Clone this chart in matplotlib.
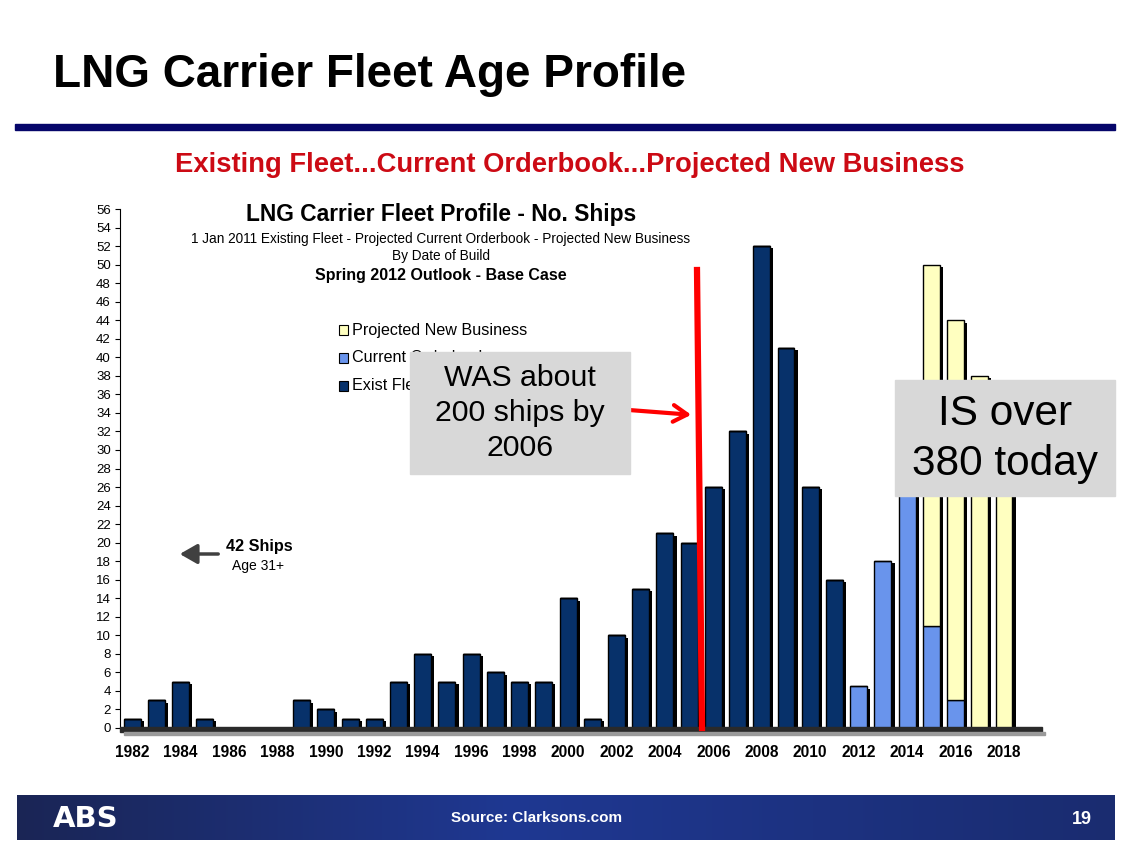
import matplotlib
matplotlib.use("Agg")
import matplotlib.pyplot as plt
import numpy as np
from matplotlib.patches import Rectangle, FancyArrowPatch

plt.rcParams['font.family'] = ['Liberation Sans', 'DejaVu Sans']

years = list(range(1982, 2019))
existing = [1, 3, 5, 1, 0, 0, 0, 3, 2, 1, 1, 5, 8, 5, 8, 6, 5, 5, 14, 1,
            10, 15, 21, 20, 26, 32, 52, 41, 26, 16, 0, 0, 0, 0, 0, 0, 0]
current = [0]*30 + [4.5, 18, 28, 11, 3, 0, 0]
projected = [0]*33 + [39, 41, 38, 30]
xtick_years = list(range(1982, 2019, 2))
yticks = list(range(0, 57, 2))
legend_labels = ["Projected New Business", "Current Orderbook", "Exist Fleet"]

W, H = 1124, 849
fig = plt.figure(figsize=(W/100, H/100), dpi=100)
fig.patch.set_facecolor('white')

def fx(px):
    return px / W

def fy(py):
    return 1 - py / H

# Page title
fig.text(fx(53), fy(75), "LNG Carrier Fleet Age Profile", fontsize=33, fontweight='bold',
         va='center', ha='left', color='black')
fig.patches.append(Rectangle((fx(15), fy(130)), fx(1115) - fx(15), fy(124) - fy(130),
                             transform=fig.transFigure, color='#06066a'))
fig.text(fx(570), fy(165), "Existing Fleet...Current Orderbook...Projected New Business",
         fontsize=19.7, fontweight='bold', color='#cc0a14', ha='center', va='center')

# Main axes
ax = fig.add_axes([fx(120), fy(728), fx(1042) - fx(120), fy(209) - fy(728)])
ax.set_xlim(1981.5, 2019.57)
ax.set_ylim(0, 56)

x = np.array(years, dtype=float)
ex = np.array(existing, dtype=float)
cu = np.array(current, dtype=float)
pr = np.array(projected, dtype=float)
total = ex + cu + pr
bw = 0.7
sh = 0.13
# shadows
ax.bar(x + sh, np.where(total > 0, total - 0.25, 0), width=bw, color='black', zorder=2)
ax.bar(x, ex, width=bw, color='#07316a', edgecolor='black', linewidth=1.0, zorder=3)
ax.bar(x, cu, bottom=ex, width=bw, color='#6994ec', edgecolor='black', linewidth=1.0, zorder=3)
ax.bar(x, pr, bottom=ex + cu, width=bw, color='#ffffc0', edgecolor='black', linewidth=1.0, zorder=3)

for s in ['top', 'right', 'bottom']:
    ax.spines[s].set_visible(False)
ax.spines['left'].set_linewidth(0.8)
ax.set_yticks(yticks)
ax.set_yticklabels([str(v) for v in yticks], fontsize=9.5)
ax.tick_params(axis='y', length=3.6, width=0.8, pad=3, direction='out')
ax.set_xticks(xtick_years)
ax.set_xticklabels([str(v) for v in xtick_years], fontsize=11.2, fontweight='bold')
ax.tick_params(axis='x', length=0, pad=12)

# floor
fig.patches.append(Rectangle((fx(120), fy(732)), fx(1042) - fx(120), fy(727) - fy(732),
                             transform=fig.transFigure, color='#2a2a2a', zorder=5))
fig.patches.append(Rectangle((fx(124), fy(735)), fx(1045) - fx(124), fy(732) - fy(735),
                             transform=fig.transFigure, color='#9a9a9a', zorder=5))

# chart titles
fig.text(fx(441), fy(215), "LNG Carrier Fleet Profile - No. Ships", fontsize=16.4,
         fontweight='bold', ha='center', va='center')
fig.text(fx(441), fy(239), "1 Jan 2011 Existing Fleet - Projected Current Orderbook - Projected New Business",
         fontsize=9.8, ha='center', va='center')
fig.text(fx(441), fy(256), "By Date of Build", fontsize=9.8, ha='center', va='center')
fig.text(fx(441), fy(275), "Spring 2012 Outlook - Base Case", fontsize=11.5,
         fontweight='bold', ha='center', va='center')

# legend
leg_colors = ['#ffffc0', '#6994ec', '#07316a']
for i, (lab, col) in enumerate(zip(legend_labels, leg_colors)):
    yy = 330 + i * 28
    fig.patches.append(Rectangle((fx(339), fy(yy + 5)), fx(9), fy(0) - fy(10),
                                 transform=fig.transFigure, facecolor=col,
                                 edgecolor='black', linewidth=0.8, zorder=6))
    fig.text(fx(352), fy(yy), lab, fontsize=11.6, ha='left', va='center', zorder=6)

# 42 ships annotation
ax_arrow = FancyArrowPatch((fx(221), fy(554)), (fx(177), fy(554)), transform=fig.transFigure,
                           arrowstyle='-|>,head_length=7,head_width=4', color='#404040',
                           linewidth=2.5, mutation_scale=1.5)
fig.patches.append(ax_arrow)
fig.text(fx(259), fy(546), "42 Ships", fontsize=11.7, fontweight='bold', ha='center', va='center')
fig.text(fx(258), fy(566), "Age 31+", fontsize=10, ha='center', va='center')

# red vertical line and arrow
fig.add_artist(plt.Line2D([fx(697), fx(702)], [fy(270), fy(728)], transform=fig.transFigure,
                          color='red', linewidth=4.5, zorder=7))
red_arrow = FancyArrowPatch((fx(603), fy(408)), (fx(694), fy(415)), transform=fig.transFigure,
                            arrowstyle='->,head_length=10,head_width=6', color='red',
                            linewidth=3, mutation_scale=1.0, zorder=7)
fig.patches.append(red_arrow)

# grey boxes
fig.patches.append(Rectangle((fx(410), fy(474)), fx(630) - fx(410), fy(352) - fy(474),
                             transform=fig.transFigure, color='#d8d8d8', zorder=8))
fig.text(fx(520), fy(413), "WAS about\n200 ships by\n2006", fontsize=21.8, ha='center',
         va='center', linespacing=1.3, zorder=9)
fig.patches.append(Rectangle((fx(895), fy(496)), fx(1115) - fx(895), fy(380) - fy(496),
                             transform=fig.transFigure, color='#d8d8d8', zorder=8))
fig.text(fx(1005), fy(439), "IS over\n380 today", fontsize=30.5, ha='center',
         va='center', linespacing=1.3, zorder=9)

# footer with gradient
fax = fig.add_axes([fx(17), fy(840), fx(1115) - fx(17), fy(795) - fy(840)])
grad_x = np.linspace(0, 1, 400)
c1 = np.array([0x1a, 0x25, 0x55]) / 255
c2 = np.array([0x1f, 0x38, 0x92]) / 255
c3 = np.array([0x1a, 0x2c, 0x70]) / 255
prof = np.clip(grad_x / 0.45, 0, 1)
cols = np.where(grad_x[:, None] < 0.45,
                c1 + (c2 - c1) * prof[:, None],
                c2 + (c3 - c2) * ((grad_x[:, None] - 0.45) / 0.55))
img = np.tile(cols[None, :, :], (20, 1, 1))
fax.imshow(img, aspect='auto', extent=[0, 1, 0, 1])
fax.set_axis_off()
fig.text(fx(86), fy(819), "ABS", fontsize=21, fontweight='heavy', color='white',
         ha='center', va='center', family=['DejaVu Sans'])
fig.text(fx(537), fy(818), "Source: Clarksons.com", fontsize=11, fontweight='bold',
         color='white', ha='center', va='center')
fig.text(fx(1082), fy(819), "19", fontsize=13, fontweight='bold', color='white',
         ha='center', va='center')

fig.savefig("out.png", dpi=100)
